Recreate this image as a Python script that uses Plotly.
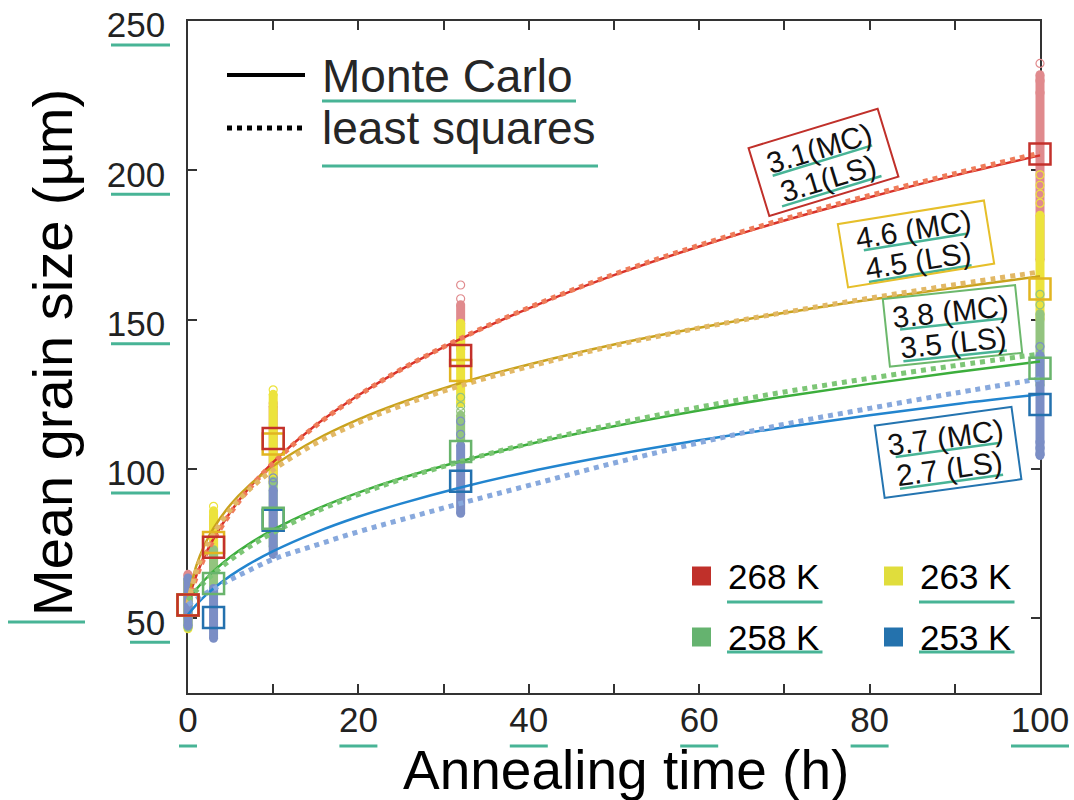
import math
import plotly.graph_objects as go

# ---------------- data ----------------
times = [0, 3, 10, 32, 100]
temps = ["268 K", "263 K", "258 K", "253 K"]

mean_268 = [54.5, 73.8, 110.2, 138.0, 205.5]
mean_263 = [54.5, 75.4, 108.4, 133.0, 160.3]
mean_258 = [54.5, 61.7, 83.5, 105.9, 133.7]
mean_253 = [54.4, 50.3, 82.8, 95.9, 121.6]

low_268 = [50.0, 66.0, 96.0, 140.0, 170.0]
high_268 = [64.5, 84.0, 121.0, 155.0, 232.0]
low_263 = [46.5, 70.0, 95.0, 122.0, 150.0]
high_263 = [62.0, 86.0, 125.0, 148.8, 185.0]
low_258 = [47.0, 58.0, 74.0, 110.0, 128.0]
high_258 = [63.0, 73.0, 96.0, 118.0, 152.0]
low_253 = [47.5, 43.3, 71.4, 85.2, 104.5]
high_253 = [63.5, 60.0, 93.0, 108.0, 138.0]

out_t_268 = [0, 10, 32, 32, 100, 100, 100]
out_v_268 = [64.7, 122.0, 157.0, 161.6, 226.0, 230.0, 235.8]
out_t_263 = [3, 10, 100, 100, 100, 100]
out_v_263 = [87.5, 126.5, 189.0, 192.0, 195.0, 198.5]
out_t_258 = [32, 32, 32, 100, 100]
out_v_258 = [119.3, 121.0, 124.0, 155.0, 158.5]
out_t_253 = [10, 10, 32, 32, 100, 100, 100, 100]
out_v_253 = [95.5, 97.0, 111.6, 116.0, 141.0, 105.0, 107.0, 109.0]

fit_t = [0, 1, 2, 3, 5, 7, 10, 15, 20, 25, 32, 40, 50, 60, 70, 80, 90, 100]
mc_268 = [56.0, 64.5, 71.2, 76.7, 85.7, 93.1, 102.3, 114.7, 124.7, 133.3, 143.6, 153.8, 164.9, 174.5, 183.2, 191.0, 198.3, 205.0]
ls_268 = [55.5, 64.0, 70.8, 76.3, 85.3, 92.8, 102.0, 114.5, 124.6, 133.3, 143.7, 154.0, 165.2, 174.9, 183.7, 191.6, 198.9, 205.8]
mc_263 = [56.0, 67.8, 74.9, 80.2, 88.1, 94.0, 101.0, 109.8, 116.6, 122.2, 128.8, 135.0, 141.7, 147.3, 152.3, 156.7, 160.7, 164.5]
ls_263 = [55.0, 66.0, 73.0, 78.4, 86.5, 92.6, 99.7, 108.6, 115.5, 121.2, 127.9, 134.3, 141.3, 147.2, 152.4, 157.2, 161.7, 166.0]
mc_258 = [56.0, 59.8, 63.0, 65.8, 70.6, 74.6, 79.7, 86.5, 92.1, 96.9, 102.6, 108.3, 114.3, 119.6, 124.3, 128.5, 132.4, 136.0]
ls_258 = [56.0, 59.4, 62.3, 65.0, 69.6, 73.6, 78.7, 85.7, 91.5, 96.5, 102.5, 108.5, 115.0, 120.7, 125.8, 130.4, 134.6, 138.5]
mc_253 = [51.3, 54.6, 57.5, 60.0, 64.3, 67.9, 72.5, 78.8, 84.0, 88.4, 93.8, 99.1, 104.7, 109.6, 114.0, 118.0, 121.7, 125.0]
ls_253 = [54.6, 56.4, 58.2, 59.8, 63.0, 65.8, 69.8, 74.5, 79.0, 83.0, 88.5, 94.5, 102.0, 108.8, 115.0, 120.3, 125.4, 130.2]

exponent_labels = [("3.1(MC)", "3.1(LS)"), ("4.6 (MC)", "4.5 (LS)"),
                   ("3.8 (MC)", "3.5 (LS)"), ("3.7 (MC)", "2.7 (LS)")]

x_ticks = [0, 20, 40, 60, 80, 100]
y_ticks = [50, 100, 150, 200, 250]
x_range = [0, 100]
y_range = [25, 250]

# ---------------- styles ----------------
FONT = "Liberation Sans, Arial, Helvetica, sans-serif"
TEAL = "#48b496"
col_cloud = ["#e08a8d", "#ece33c", "#93c47f", "#7b8ec5"]
col_mean = ["#c3312b", "#e2b521", "#69b46c", "#2471ae"]
col_mc = ["#d8322a", "#c9a21c", "#3cae3c", "#2285cf"]
col_ls = ["#ef7c5a", "#e2b866", "#7dc676", "#88a9dd"]
col_swatch = ["#c0302a", "#e0dd3c", "#65b36f", "#2472ad"]
col_box = ["#c0302a", "#e6bf2a", "#6cb86c", "#2474b0"]

means = [mean_268, mean_263, mean_258, mean_253]
lows = [low_268, low_263, low_258, low_253]
highs = [high_268, high_263, high_258, high_253]
outs = [(out_t_268, out_v_268), (out_t_263, out_v_263),
        (out_t_258, out_v_258), (out_t_253, out_v_253)]
mcs = [mc_268, mc_263, mc_258, mc_253]
lss = [ls_268, ls_263, ls_258, ls_253]

W, H = 1074, 800
# frame (axis box) in pixels
FX0, FX1, FY0, FY1 = 188, 1040, 21, 693
# drawing area slightly wider than the frame so edge columns are not clipped
PAD = 10
L, R, T, B = FX0 - PAD, W - FX1 - PAD, FY0, H - FY1
PW, PH = W - L - R, H - T - B


def px_x(px):
    return (px - L) / PW


def px_y(py):
    return (H - B - py) / PH


ux = (x_range[1] - x_range[0]) / (FX1 - FX0)  # data units per pixel
x2_range = [x_range[0] - PAD * ux, x_range[1] + PAD * ux]

fig = go.Figure()
XA = "x2"

# empty trace so the framed (x, y) subplot with its axes is created
fig.add_trace(go.Scatter(x=[None], y=[None], mode="markers",
                         showlegend=False, hoverinfo="skip"))

# sample clouds (drawn red -> blue, blue on top)
for i in range(4):
    fig.add_trace(go.Scatter(
        x=times, y=lows[i], mode="markers", xaxis=XA,
        marker=dict(size=9, color=col_cloud[i]),
        error_y=dict(type="data", symmetric=False,
                     array=[h - l for h, l in zip(highs[i], lows[i])],
                     arrayminus=[0] * len(times), thickness=9, width=0,
                     color=col_cloud[i]),
        cliponaxis=False, showlegend=False, hoverinfo="skip"))
    fig.add_trace(go.Scatter(
        x=times, y=highs[i], mode="markers", xaxis=XA,
        marker=dict(size=9, color=col_cloud[i]),
        cliponaxis=False, showlegend=False, hoverinfo="skip"))
    fig.add_trace(go.Scatter(
        x=outs[i][0], y=outs[i][1], mode="markers", xaxis=XA,
        marker=dict(size=8, symbol="circle-open", color=col_cloud[i],
                    line=dict(width=1.2, color=col_cloud[i])),
        cliponaxis=False, showlegend=False, hoverinfo="skip"))

# Monte Carlo fits
for i in range(4):
    fig.add_trace(go.Scatter(
        x=fit_t, y=mcs[i], mode="lines", line_shape="spline", xaxis=XA,
        line=dict(color=col_mc[i], width=2.5), showlegend=False))
# least-squares fits
for i in range(4):
    fig.add_trace(go.Scatter(
        x=fit_t, y=lss[i], mode="lines", line_shape="spline", xaxis=XA,
        line=dict(color=col_ls[i], width=5, dash="5px,5px"), showlegend=False))

# mean markers (blue first, red on top)
for i in [3, 2, 1, 0]:
    fig.add_trace(go.Scatter(
        x=times, y=means[i], mode="markers", name=temps[i], xaxis=XA,
        marker=dict(symbol="square-open", size=21, color=col_mean[i],
                    line=dict(width=2.5, color=col_mean[i])),
        cliponaxis=False, showlegend=False))

shapes = []
annotations = []


def seg(x0, y0, x1, y1, color=TEAL, width=3):
    shapes.append(dict(type="line", xref="paper", yref="paper",
                       x0=px_x(x0), x1=px_x(x1), y0=px_y(y0), y1=px_y(y1),
                       line=dict(color=color, width=width)))


def underline(x0, x1, py):
    seg(x0, py, x1, py)


# tick-label underlines
for v in y_ticks:
    w = 59 if v >= 100 else 40
    ty = FY1 - (v - y_range[0]) / (y_range[1] - y_range[0]) * (FY1 - FY0)
    underline(170 - w, 170, ty + 24)
for v in x_ticks:
    w = 18 if v == 0 else (38 if v < 100 else 58)
    cx = FX0 + v / 100 * (FX1 - FX0)
    underline(cx - w / 2, cx + w / 2, 746)

# axis titles
annotations.append(dict(text="Mean grain size (µm)", textangle=-90,
                        x=px_x(52), y=px_y(353), xref="paper", yref="paper",
                        xanchor="center", yanchor="middle", showarrow=False,
                        font=dict(family=FONT, size=56, color="#000")))
underline(8, 85, 622)
annotations.append(dict(text="Annealing time (h)",
                        x=px_x(626), y=px_y(770), xref="paper", yref="paper",
                        xanchor="center", yanchor="middle", showarrow=False,
                        font=dict(family=FONT, size=55, color="#000")))

# method legend (top-left)
seg(227, 75, 305, 75, color="#000", width=4)
shapes.append(dict(type="line", xref="paper", yref="paper",
                   x0=px_x(227), x1=px_x(305), y0=px_y(128), y1=px_y(128),
                   line=dict(color="#000", width=5, dash="5px,5px")))
annotations.append(dict(text="Monte Carlo", x=px_x(320), y=px_y(76),
                        xref="paper", yref="paper", xanchor="left", yanchor="middle",
                        showarrow=False, font=dict(family=FONT, size=46, color="#262626")))
annotations.append(dict(text="least squares", x=px_x(320), y=px_y(128),
                        xref="paper", yref="paper", xanchor="left", yanchor="middle",
                        showarrow=False, font=dict(family=FONT, size=46, color="#262626")))
underline(322, 576, 101)
underline(322, 598, 166)

# temperature legend (bottom-right)
sw_pos = [(701.5, 576), (893.5, 576), (701.5, 637), (893.5, 637)]
for i in range(4):
    cx, cy = sw_pos[i]
    shapes.append(dict(type="rect", xref="paper", yref="paper",
                       x0=px_x(cx - 9.5), x1=px_x(cx + 9.5),
                       y0=px_y(cy + 9.5), y1=px_y(cy - 9.5),
                       fillcolor=col_swatch[i], line=dict(width=0)))
    annotations.append(dict(text=temps[i], x=px_x(cx + 24), y=px_y(cy),
                            xref="paper", yref="paper", xanchor="left",
                            yanchor="middle", showarrow=False,
                            font=dict(family=FONT, size=35, color="#000")))
    underline(cx + 25.5, cx + 121, cy + 26 if cy < 600 else cy + 15)

# rotated exponent boxes
boxes = [(823, 162.5, -17, 133, 69), (915.5, 244, -9.2, 146, 62),
         (952, 326, -6, 131, 66), (947.5, 452, -7.8, 136, 71)]
for i, (cx, cy, ang, bw, bh) in enumerate(boxes):
    annotations.append(dict(text="&nbsp;", x=px_x(cx), y=px_y(cy),
                            xref="paper", yref="paper", xanchor="center",
                            yanchor="middle", showarrow=False, textangle=ang,
                            width=bw, height=bh, borderpad=0, borderwidth=2,
                            bordercolor=col_box[i],
                            font=dict(family=FONT, size=10)))
    th = math.radians(ang)
    ux_, uy_ = math.cos(th), math.sin(th)
    vx, vy = -math.sin(th), math.cos(th)
    for k, d in enumerate([-15, 17]):
        lx, ly = cx + d * vx, cy + d * vy
        annotations.append(dict(text=exponent_labels[i][k],
                                x=px_x(lx), y=px_y(ly),
                                xref="paper", yref="paper", xanchor="center",
                                yanchor="middle", showarrow=False, textangle=ang,
                                font=dict(family=FONT, size=30, color="#111")))
        half = 52
        bx, by = lx + 13 * vx, ly + 13 * vy
        seg(bx - half * ux_, by - half * uy_, bx + half * ux_, by + half * uy_,
            width=2.5)

axis_common = dict(showline=True, linecolor="#333", linewidth=1.5, mirror="ticks",
                   ticks="inside", ticklen=9, tickwidth=1.5, tickcolor="#333",
                   showgrid=False, zeroline=False,
                   automargin=False, ticklabeloverflow="allow",
                   tickfont=dict(family=FONT, size=35, color="#222"))

fig.update_layout(
    width=W, height=H,
    margin=dict(l=L, r=R, t=T, b=B, autoexpand=False),
    paper_bgcolor="white", plot_bgcolor="rgba(0,0,0,0)",
    showlegend=False,
    xaxis=dict(range=x_range, tickvals=x_ticks, ticklabelstandoff=-5,
               domain=[px_x(FX0), px_x(FX1)],
               minor=dict(dtick=10, ticks="inside", ticklen=9, tickwidth=1.5,
                          tickcolor="#333", showgrid=False),
               **axis_common),
    xaxis2=dict(range=x2_range, domain=[0, 1], anchor="y", visible=False,
                showgrid=False, zeroline=False),
    yaxis=dict(range=y_range, tickvals=y_ticks, ticklabelstandoff=14,
               ticklabelshift=4, anchor="x",
               **axis_common),
    shapes=shapes, annotations=annotations,
)

fig.write_html("out.html", config={"displayModeBar": False},
               post_script="document.body.style.margin='0';document.body.style.padding='0';")
